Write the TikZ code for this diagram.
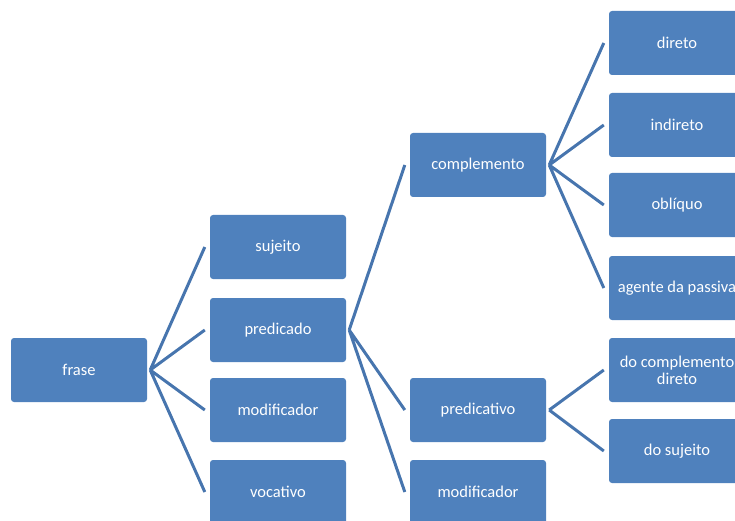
\documentclass[tikz,border=0pt]{standalone}
\usepackage{fontspec}
\setmainfont{Carlito}
\usepackage{tikz}
\usetikzlibrary{positioning}
\definecolor{boxblue}{HTML}{4F81BD}
\definecolor{lineblue}{HTML}{4775AE}

\begin{document}
\begin{tikzpicture}[x=1pt, y=-1pt]

        % Setup the styles for the boxes and the links
        \tikzset{box style/.style={rectangle,
                                   rounded corners=3pt,
                                   minimum width=136pt,
                                   minimum height=64pt,
                                   inner sep=0pt,
                                   align=center,
                                   font=\fontsize{16.5}{17}\selectfont,
                                   text=white,
                                   fill=boxblue},
                 link style/.style={line width=3pt,
                                    draw=lineblue}}

        \useasboundingbox (0, 0) rectangle (735, 521);
        \clip (0, 0) rectangle (735, 521);

        % Draw the boxes
        \node[box style] at (79, 370)   (frase)   {frase};

        \node[box style] at (278, 247)  (suj)     {sujeito};
        \node[box style] at (278, 330)  (pred)    {predicado};
        \node[box style] at (278, 410)  (modA)    {modificador};
        \node[box style] at (278, 492)  (voc)     {vocativo};

        \node[box style] at (478, 165)  (compl)   {complemento};
        \node[box style] at (478, 410)  (predv)   {predicativo};
        \node[box style] at (478, 492)  (modB)    {modificador};

        \node[box style] at (677, 43)   (dir)     {direto};
        \node[box style] at (677, 125)  (ind)     {indireto};
        \node[box style] at (677, 205)  (obl)     {oblíquo};
        \node[box style] at (677, 288)  (agente)  {agente da passiva};
        \node[box style] at (677, 370)  (docomp)  {do complemento\\direto};
        \node[box style] at (677, 451)  (dosuj)   {do sujeito};

        % Connect the boxes with links
        \draw[link style]
            ([xshift=3pt]frase.east)  -- ([xshift=-5pt]suj.west)
            ([xshift=3pt]frase.east)  -- ([xshift=-5pt]pred.west)
            ([xshift=3pt]frase.east)  -- ([xshift=-5pt]modA.west)
            ([xshift=3pt]frase.east)  -- ([xshift=-5pt]voc.west)
            ([xshift=3pt]pred.east)   -- ([xshift=-5pt]compl.west)
            ([xshift=3pt]pred.east)   -- ([xshift=-5pt]predv.west)
            ([xshift=3pt]pred.east)   -- ([xshift=-5pt]modB.west)
            ([xshift=3pt]compl.east)  -- ([xshift=-5pt]dir.west)
            ([xshift=3pt]compl.east)  -- ([xshift=-5pt]ind.west)
            ([xshift=3pt]compl.east)  -- ([xshift=-5pt]obl.west)
            ([xshift=3pt]compl.east)  -- ([xshift=-5pt]agente.west)
            ([xshift=3pt]predv.east)  -- ([xshift=-5pt]docomp.west)
            ([xshift=3pt]predv.east)  -- ([xshift=-5pt]dosuj.west)
            ;
\end{tikzpicture}
\end{document}
